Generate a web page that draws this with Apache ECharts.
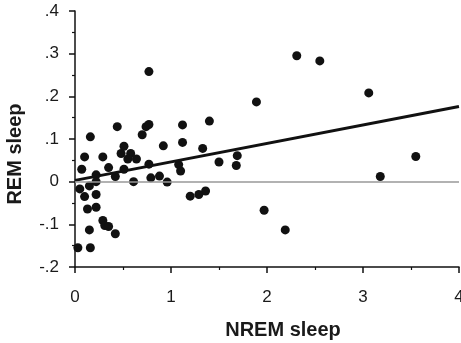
<!DOCTYPE html>
<html><head><meta charset="utf-8">
<script src="https://cdn.jsdelivr.net/npm/echarts@6/dist/echarts.min.js"></script>
<style>html,body{margin:0;padding:0;background:#fff}#c{width:461px;height:343px}</style>
</head><body><div id="c"></div>
<script>
const nremX = [0.77,1.89,0.16,0.44,0.74,0.77,0.70,1.12,1.40,1.12,0.51,0.92,1.33,0.10,0.29,0.48,0.58,0.55,0.64,0.07,0.35,0.22,0.51,0.77,0.42,0.22,0.61,0.79,0.88,0.96,1.08,1.10,1.50,1.69,1.68,0.05,0.15,0.10,0.22,0.13,0.22,0.29,0.31,0.35,0.15,0.42,0.03,0.16,1.20,1.29,1.36,2.31,2.55,3.06,3.55,3.18,1.97,2.19];
const remY = [0.258,0.187,0.105,0.129,0.129,0.134,0.110,0.133,0.142,0.092,0.083,0.084,0.078,0.058,0.058,0.066,0.066,0.053,0.053,0.029,0.033,0.016,0.029,0.041,0.012,0.0,0.0,0.009,0.013,-0.001,0.040,0.025,0.046,0.061,0.038,-0.017,-0.010,-0.035,-0.030,-0.064,-0.060,-0.091,-0.103,-0.105,-0.113,-0.122,-0.155,-0.155,-0.034,-0.030,-0.022,0.295,0.283,0.208,0.059,0.012,-0.067,-0.113];
const fitX = [0, 4];
const fitY = [0.003, 0.176];
const xTicks = ['0','1','2','3','4'];
const yTicks = ['-.2','-.1','0','.1','.2','.3','.4'];

const chart = echarts.init(document.getElementById('c'));
const font = 'Liberation Sans, Arial, Helvetica, sans-serif';
const axisCommon = {
  axisLine: {show: true, onZero: false, lineStyle: {color: '#111', width: 1.5}},
  axisTick: {show: true, inside: false, length: 6, lineStyle: {color: '#111', width: 1.5}},
  minorTick: {show: true, splitNumber: 2, length: 3, lineStyle: {color: '#111', width: 1.2}},
  splitLine: {show: false},
  nameTextStyle: {fontFamily: font, fontWeight: 'bold', fontSize: 20, color: '#1a1a1a'}
};
chart.setOption({
  animation: false,
  grid: {left: 75, right: 2, top: 11, bottom: 76, containLabel: false, outerBoundsMode: 'none'},
  xAxis: Object.assign({}, axisCommon, {
    type: 'value', min: 0, max: 4, interval: 1,
    name: 'NREM sleep', nameLocation: 'middle', nameGap: 53,
    nameTextStyle: Object.assign({}, axisCommon.nameTextStyle, {padding: [0, 0, 0, 32]}),
    axisLabel: {margin: 22, fontFamily: font, fontSize: 17, color: '#1a1a1a',
      formatter: v => xTicks[Math.round(v)]}
  }),
  yAxis: Object.assign({}, axisCommon, {
    type: 'value', min: -0.2, max: 0.4, interval: 0.1,
    name: 'REM sleep', nameLocation: 'middle', nameGap: 50,
    nameTextStyle: Object.assign({}, axisCommon.nameTextStyle, {padding: [0, 0, 0, -30]}),
    axisLabel: {margin: 16, fontFamily: font, fontSize: 17, color: '#1a1a1a',
      formatter: v => yTicks[Math.round((v + 0.2) * 10)]}
  }),
  series: [
    {
      type: 'scatter', symbolSize: 9, itemStyle: {color: '#111', opacity: 1},
      data: nremX.map((x, i) => [x, remY[i]]), z: 3,
      markLine: {silent: true, symbol: 'none', label: {show: false},
        lineStyle: {color: '#999', type: 'solid', width: 1.5},
        data: [{yAxis: 0}]}
    },
    {
      type: 'line', symbol: 'none', lineStyle: {color: '#111', width: 3},
      data: fitX.map((x, i) => [x, fitY[i]]), z: 4
    }
  ]
});
</script></body></html>
